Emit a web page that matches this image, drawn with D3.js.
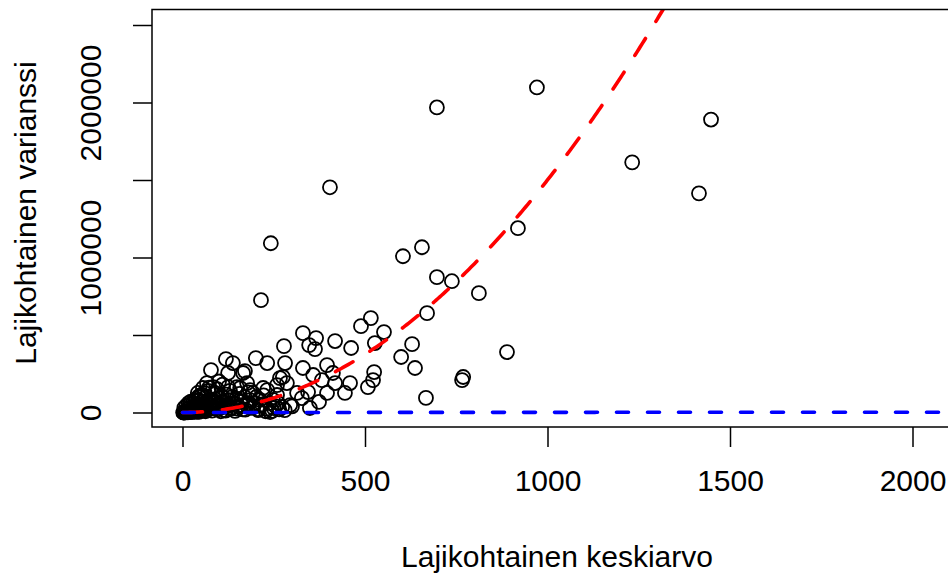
<!DOCTYPE html>
<html><head><meta charset="utf-8">
<script src="https://cdn.jsdelivr.net/npm/d3@7"></script>
<style>html,body{margin:0;padding:0;background:#fff;}svg{display:block;}</style>
</head><body>
<svg id="c" width="948" height="577"></svg>
<script>
// Data: per-species mean (x) and variance (y)
const meanValues = [971,697,1448,1232,1415,404,242,656,604,919,697,738,812,215,670,516,489,552,629,599,637,889,769,766,667,525,
330,366,347,363,418,278,462,527,119,138,201,232,281,78,125,166,330,396,412,275,358,382,286,459,522,508,445,344,396,327,374,295,349,
84,125,158,56,185,232,259,212,273,240,67,149,221,259,42,89,171,267,314,193,177,248,418,
3,6,9,12,15,18,21,24,27,30,33,36,39,42,45,48,51,54,57,60,63,66,69,72,75,78,81,84,87,90,93,96,99,102,105,108,111,114,117,120,124,128,132,136,140,144,148,152,156,160,165,170,175,180,185,190,196,202,208,214,222,230,238,246,255,265,
20,35,50,28,40,62,70,95,110,130,55,15,8,100,45,
2,4,7,10,13,16,19,22,25,29,32,37,41,44,47,52,58,64,68,74,80,86,92,98,104,112,118,126,134,142,150,162,172,182,194,206,218,228,250,262,280,300,
5,11,17,23,31,38,46,53,61,73];
const varianceValues = [2097000,1968000,1890000,1614000,1414000,1453000,1092000,1066000,1008000,1189000,873000,847000,770000,725000,641000,609000,557000,519000,441000,358000,287000,390000,229000,209000,94000,261000,
512000,480000,435000,409000,461000,428000,416000,448000,345000,319000,351000,319000,319000,274000,255000,255000,287000,306000,255000,229000,242000,209000,190000,190000,209000,164000,126000,132000,126000,93000,68000,48000,29000,
164000,164000,158000,158000,145000,145000,113000,81000,35000,3000,190000,164000,158000,177000,126000,126000,267000,222000,126000,126000,190000,81000,190000,
300,1200,600,2500,1500,4000,2200,6000,3500,9000,5000,12000,7000,15000,4000,20000,10000,26000,14000,32000,8000,40000,18000,48000,24000,60000,12000,70000,30000,85000,45000,20000,95000,55000,8000,105000,35000,65000,15000,115000,50000,80000,25000,100000,60000,10000,90000,40000,120000,70000,20000,100000,50000,130000,80000,30000,60000,100000,15000,45000,110000,25000,60000,10000,40000,20000,
50000,80000,110000,30000,55000,95000,140000,150000,180000,140000,70000,20000,8000,200000,105000,
100,400,900,1800,3000,5500,8000,11000,16000,22000,28000,36000,6000,18000,42000,30000,50000,22000,65000,35000,44000,75000,28000,52000,38000,68000,12000,45000,30000,55000,25000,48000,18000,60000,35000,22000,52000,8000,28000,60000,15000,40000,
30000,45000,60000,70000,75000,90000,100000,115000,125000,160000];
const xTicks = [0,500,1000,1500,2000];
const yTicks = [0,500000,1000000,1500000,2000000,2500000];
const yTickLabels = ["0","","1000000","","2000000",""];
const xLabel = "Lajikohtainen keskiarvo";
const yLabel = "Lajikohtainen varianssi";
const nbTheta = 0.667; // fitted negative-binomial dispersion: var = m + m^2/theta

const svg = d3.select("#c");
const font = "'Liberation Sans', Arial, Helvetica, sans-serif";
const box = {l:152, t:9.5, r:962, b:427};
const x = d3.scaleLinear().domain([0,2000]).range([182.5,912.5]);
const y = d3.scaleLinear().domain([0,2500000]).range([412.5,25]);

svg.append("defs").append("clipPath").attr("id","clip")
  .append("rect").attr("x",box.l).attr("y",box.t).attr("width",box.r-box.l).attr("height",box.b-box.t);

const plot = svg.append("g").attr("clip-path","url(#clip)");
const pts = meanValues.map((m,i)=>({m, v:varianceValues[i]}));
plot.selectAll("circle").data(pts).enter().append("circle")
  .attr("cx",d=>x(d.m)).attr("cy",d=>y(d.v)).attr("r",7)
  .attr("fill","none").attr("stroke","#000").attr("stroke-width",1.8);

const grid = d3.range(0,2101,5);
const line = d3.line().x(d=>x(d[0])).y(d=>y(d[1]));
plot.append("path").datum(grid.map(m=>[m, m + m*m/nbTheta]).filter(d=>d[1]<4e6))
  .attr("d",line).attr("fill","none").attr("stroke","#ff0000").attr("stroke-width",3.6)
  .attr("stroke-dasharray","20 20").attr("stroke-linecap","round");
plot.append("path").datum(grid.map(m=>[m, m]))
  .attr("d",line).attr("fill","none").attr("stroke","#0000ff").attr("stroke-width",3.6)
  .attr("stroke-dasharray","12 19").attr("stroke-linecap","round");

// box
svg.append("rect").attr("x",box.l).attr("y",box.t).attr("width",box.r-box.l).attr("height",box.b-box.t)
  .attr("fill","none").attr("stroke","#000").attr("stroke-width",1.5);

// x axis
const xa = svg.append("g").attr("transform",`translate(0,${box.b})`)
  .call(d3.axisBottom(x).tickValues(xTicks).tickSize(20).tickSizeOuter(0).tickPadding(23).tickFormat(d3.format("d")));
xa.select(".domain").remove();
xa.selectAll("line").attr("stroke","#000").attr("stroke-width",1.5);
xa.selectAll("text").attr("font-family",font).attr("font-size",30).attr("fill","#000");

// y axis
const ya = svg.append("g").attr("transform",`translate(${box.l},0)`)
  .call(d3.axisLeft(y).tickValues(yTicks).tickSize(19).tickSizeOuter(0).tickFormat((d,i)=>yTickLabels[i]));
ya.select(".domain").remove();
ya.selectAll("line").attr("stroke","#000").attr("stroke-width",1.5);
ya.selectAll("text").attr("font-family",font).attr("font-size",30).attr("fill","#000")
  .attr("x",null).attr("dy",null).attr("text-anchor","middle")
  .attr("transform","translate(-51,0) rotate(-90)");

svg.append("text").attr("x",557).attr("y",567).attr("text-anchor","middle")
  .attr("font-family",font).attr("font-size",30).text(xLabel);
svg.append("text").attr("transform","translate(36,213) rotate(-90)").attr("text-anchor","middle")
  .attr("font-family",font).attr("font-size",30).text(yLabel);
</script>
</body></html>
